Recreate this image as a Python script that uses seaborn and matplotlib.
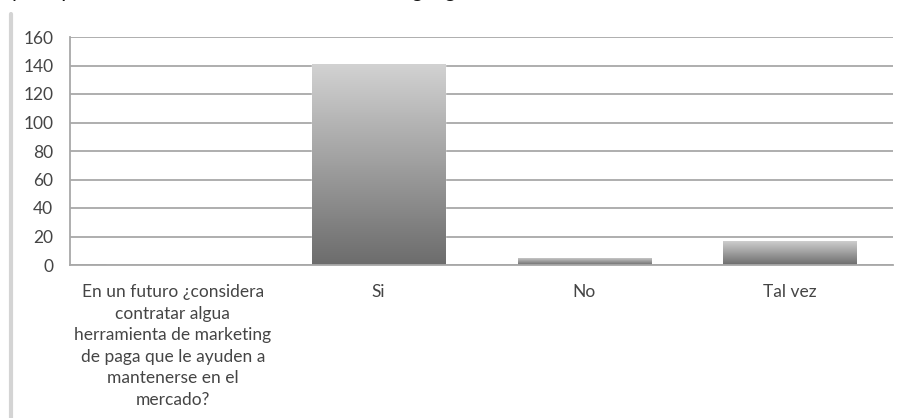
import numpy as np
import matplotlib
matplotlib.use("Agg")
import matplotlib.pyplot as plt
from matplotlib.colors import LinearSegmentedColormap
from matplotlib.lines import Line2D
import pandas as pd
import seaborn as sns

# Survey answers and counts
categories = [
    "En un futuro ¿considera\ncontratar algua\nherramienta de marketing\nde paga que le ayuden a\nmantenerse en el\nmercado?",
    "Si",
    "No",
    "Tal vez",
]
counts = [0, 141, 5, 17]
y_ticks = [0, 20, 40, 60, 80, 100, 120, 140, 160]
heading = "y adopción de las herramientas de marketing digital"

sns.set_theme(style="white")
plt.rcParams["font.family"] = ["Lato", "DejaVu Sans"]

W, H = 904, 418
fig = plt.figure(figsize=(W / 100, H / 100), dpi=100)
ax = fig.add_axes([70 / W, 153 / H, 823 / W, 228 / H])

df = pd.DataFrame({"respuesta": categories, "cantidad": counts})
sns.barplot(data=df, x="respuesta", y="cantidad", ax=ax, width=0.65,
            color="#999999", saturation=1, zorder=2)

# vertical gray gradient inside each bar
grad_cmap = LinearSegmentedColormap.from_list("bar_grad", ["#6c6c6c", "#d2d2d2"])
gradient = np.linspace(0, 1, 256).reshape(-1, 1)
for patch in list(ax.patches):
    x, y = patch.get_x(), patch.get_y()
    w, h = patch.get_width(), patch.get_height()
    if h <= 0:
        continue
    im = ax.imshow(gradient, extent=[x, x + w, y, y + h], origin="lower",
                   aspect="auto", cmap=grad_cmap, zorder=2.5)
    im.set_clip_path(patch)

ax.set_xlim(-0.5, 3.5)
ax.set_ylim(0, 160)
ax.set_yticks(y_ticks)
ax.set_xlabel("")
ax.set_ylabel("")

grid_col = "#a8a8a8"
ax.yaxis.grid(True, color=grid_col, lw=1.3)
ax.xaxis.grid(False)
ax.set_axisbelow(True)
for side in ("top", "right"):
    ax.spines[side].set_visible(False)
for side in ("left", "bottom"):
    ax.spines[side].set_color(grid_col)
    ax.spines[side].set_linewidth(1.3)
ax.spines["bottom"].set_zorder(3)

ax.tick_params(axis="y", length=0, pad=12, labelsize=12.5, labelcolor="#454545")
ax.tick_params(axis="x", length=0, pad=14, labelsize=12.5, labelcolor="#454545")
for lbl in ax.get_xticklabels():
    lbl.set_horizontalalignment("center")
    lbl.set_multialignment("center")
    lbl.set_linespacing(1.42)

# page margin line at the left
fig.add_artist(Line2D([10.5 / W, 10.5 / W], [0, (H - 14) / H],
                      transform=fig.transFigure, color="#d4d4d4", lw=3))

# heading line running off the top edge
fig.text(12 / W, 1 + 3 / H, heading, style="italic", fontsize=16,
         color="#111111", va="baseline", ha="left")

fig.savefig("out.png", dpi=100)
